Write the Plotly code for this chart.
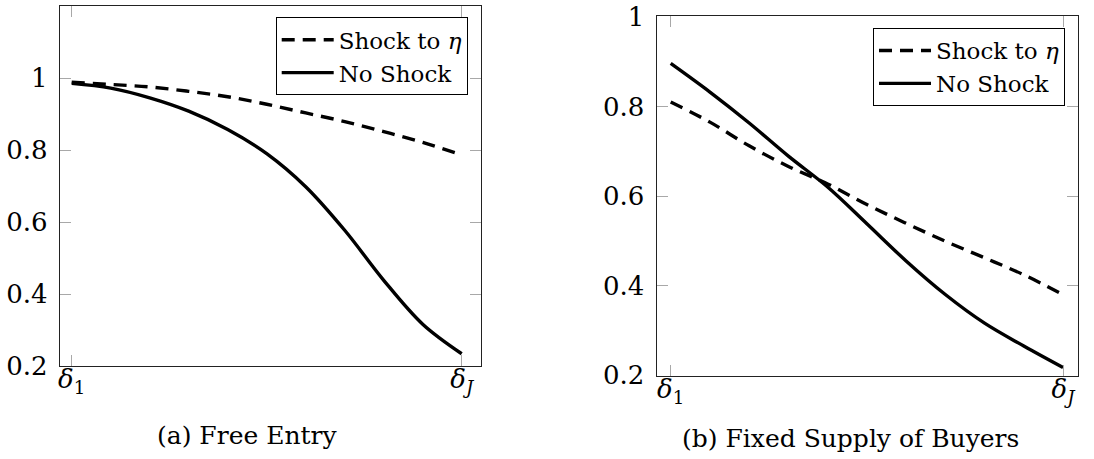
import plotly.graph_objects as go

# Relative position along the delta axis (delta_1 ... delta_J)
x_pos = [0.0, 0.1, 0.2, 0.3, 0.4, 0.5, 0.6, 0.7, 0.8, 0.9, 1.0]

# Panel (a) Free Entry
a_shock = [0.988, 0.982, 0.975, 0.963, 0.948, 0.927, 0.903, 0.879, 0.851, 0.821, 0.786]
a_noshock = [0.985, 0.972, 0.945, 0.908, 0.857, 0.790, 0.698, 0.577, 0.438, 0.316, 0.234]

# Panel (b) Fixed Supply of Buyers
b_shock = [0.810, 0.765, 0.712, 0.666, 0.627, 0.581, 0.539, 0.499, 0.462, 0.424, 0.380]
b_noshock = [0.896, 0.832, 0.763, 0.689, 0.620, 0.538, 0.455, 0.380, 0.316, 0.265, 0.217]

x_tickvals = [0.0, 1.0]
x_ticktext = ["<i>δ</i><sub>1</sub>", "<i>δ</i><sub><i>J</i></sub>"]
a_yticks = [0.2, 0.4, 0.6, 0.8, 1.0]
a_ytext = ["0.2", "0.4", "0.6", "0.8", "1"]
b_yticks = [0.2, 0.4, 0.6, 0.8, 1.0]
b_ytext = ["0.2", "0.4", "0.6", "0.8", "1"]

names = ["Shock to <i>η</i>", "No Shock"]
captions = ["(a) Free Entry", "(b) Fixed Supply of Buyers"]

FONT = "DejaVu Serif"
W, H = 1094, 459

fig = go.Figure()
dash = "13px,8px"
lw = 3.4

fig.add_trace(go.Scatter(x=x_pos, y=a_shock, mode="lines", name=names[0],
                         line=dict(color="black", width=lw, dash=dash, shape="spline"),
                         xaxis="x", yaxis="y", legend="legend"))
fig.add_trace(go.Scatter(x=x_pos, y=a_noshock, mode="lines", name=names[1],
                         line=dict(color="black", width=lw, shape="spline"),
                         xaxis="x", yaxis="y", legend="legend"))
fig.add_trace(go.Scatter(x=x_pos, y=b_shock, mode="lines", name=names[0],
                         line=dict(color="black", width=lw, dash=dash, shape="spline"),
                         xaxis="x2", yaxis="y2", legend="legend2"))
fig.add_trace(go.Scatter(x=x_pos, y=b_noshock, mode="lines", name=names[1],
                         line=dict(color="black", width=lw, shape="spline"),
                         xaxis="x2", yaxis="y2", legend="legend2"))

axis_common = dict(showgrid=False, zeroline=False, showline=True, linecolor="#222",
                   linewidth=1.3, mirror="ticks", ticks="inside", ticklen=11,
                   tickcolor="#a8a8a8", tickwidth=1, automargin=False,
                   ticklabeloverflow="allow",
                   tickfont=dict(family=FONT, size=26, color="black"))

def fx(p):
    return min(max(p / W, 0.0), 1.0)

def fy(p):
    return min(max(1 - p / H, 0.0), 1.0)

def px_x(a, b):
    return [fx(a), fx(b)]

def px_y(top, bottom):
    return [fy(bottom), fy(top)]

legend_common = dict(bgcolor="white", bordercolor="black", borderwidth=1,
                     font=dict(family=FONT, size=23, color="black"),
                     xanchor="right", yanchor="top", itemwidth=52,
                     tracegroupgap=0)

fig.update_layout(
    width=W, height=H,
    margin=dict(l=0, r=0, t=0, b=0, autoexpand=False),
    paper_bgcolor="white", plot_bgcolor="white",
    font=dict(family=FONT, color="black"),
    xaxis=dict(domain=px_x(60, 480.7), range=[-0.03, 1.0487], anchor="y",
               tickvals=x_tickvals, ticktext=x_ticktext, ticklabelstandoff=-10, **axis_common),
    yaxis=dict(domain=px_y(6, 366), range=[0.2, 1.2], anchor="x",
               tickvals=a_yticks, ticktext=a_ytext, ticklabelstandoff=6, **axis_common),
    xaxis2=dict(domain=px_x(656.7, 1078), range=[-0.0357, 1.0382], anchor="y2",
                tickvals=x_tickvals, ticktext=x_ticktext, ticklabelstandoff=-10, **axis_common),
    yaxis2=dict(domain=px_y(16, 376), range=[0.198, 1.002], anchor="x2",
                tickvals=b_yticks, ticktext=b_ytext, ticklabelstandoff=6, **axis_common),
    legend=dict(x=fx(467.7), y=fy(17.3), **legend_common),
    legend2=dict(x=fx(1065), y=fy(28), **legend_common),
    annotations=[
        dict(text=captions[0], x=fx(247.5), y=fy(435), xref="paper", yref="paper",
             xanchor="center", yanchor="middle", showarrow=False,
             font=dict(family=FONT, size=25, color="black")),
        dict(text=captions[1], x=fx(850), y=fy(438), xref="paper", yref="paper",
             xanchor="center", yanchor="middle", showarrow=False,
             font=dict(family=FONT, size=25, color="black")),
    ],
)

fig.write_html("out.html", config={"displayModeBar": False},
               post_script="document.body.style.margin='0px';")
